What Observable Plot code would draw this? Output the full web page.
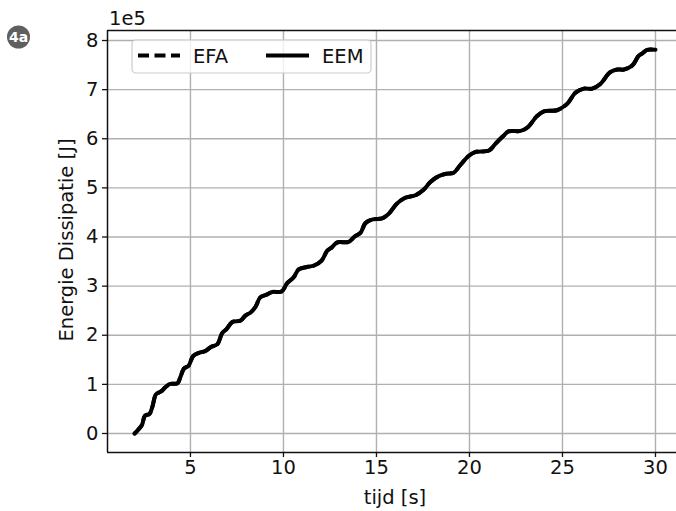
<!DOCTYPE html>
<html>
<head>
<meta charset="utf-8">
<script src="https://cdn.jsdelivr.net/npm/d3@7"></script>
<script src="https://cdn.jsdelivr.net/npm/@observablehq/plot@0.6"></script>
<style>
  html, body { margin: 0; padding: 0; background: #fff; }
  #chart { width: 676px; height: 511px; }
</style>
</head>
<body>
<div id="chart"></div>
<script>
// Energy dissipation over time (values in units of 1e5 J)
const tijd = [2.0, 2.2, 2.4, 2.55, 2.8, 2.95, 3.15, 3.4, 3.65, 3.9, 4.3, 4.45, 4.65, 4.9, 5.15, 5.45, 5.8, 6.1, 6.45, 6.7, 6.95, 7.25, 7.7, 7.95, 8.25, 8.5, 8.75, 9.05, 9.4, 9.9, 10.2, 10.55, 10.82, 11.25, 11.65, 12.05, 12.35, 12.6, 12.9, 13.5, 13.8, 14.15, 14.4, 14.8, 15.3, 15.65, 16.1, 16.55, 17.1, 17.5, 17.9, 18.35, 18.8, 19.15, 19.5, 19.95, 20.3, 21.05, 21.4, 21.8, 22.1, 22.75, 23.15, 23.6, 24.0, 24.7, 25.25, 25.7, 26.15, 26.6, 27.05, 27.55, 27.95, 28.3, 28.75, 29.1, 29.3, 29.55, 30.0];
const eem = [0.00, 0.08, 0.18, 0.36, 0.40, 0.54, 0.80, 0.85, 0.94, 1.01, 1.02, 1.14, 1.32, 1.38, 1.58, 1.64, 1.68, 1.76, 1.82, 2.04, 2.13, 2.27, 2.30, 2.40, 2.47, 2.58, 2.77, 2.82, 2.88, 2.89, 3.06, 3.18, 3.34, 3.39, 3.42, 3.52, 3.72, 3.79, 3.89, 3.90, 4.00, 4.09, 4.28, 4.36, 4.38, 4.47, 4.68, 4.80, 4.85, 4.95, 5.12, 5.24, 5.29, 5.31, 5.46, 5.65, 5.73, 5.76, 5.90, 6.05, 6.15, 6.16, 6.24, 6.45, 6.56, 6.58, 6.71, 6.94, 7.02, 7.02, 7.12, 7.35, 7.41, 7.41, 7.49, 7.69, 7.74, 7.81, 7.81];
const efa = [0.00, 0.08, 0.18, 0.36, 0.40, 0.54, 0.80, 0.85, 0.94, 1.01, 1.02, 1.14, 1.32, 1.38, 1.58, 1.64, 1.68, 1.76, 1.82, 2.04, 2.13, 2.27, 2.30, 2.40, 2.47, 2.58, 2.77, 2.82, 2.88, 2.89, 3.06, 3.18, 3.34, 3.39, 3.42, 3.52, 3.72, 3.79, 3.89, 3.90, 4.00, 4.09, 4.28, 4.36, 4.38, 4.47, 4.68, 4.80, 4.85, 4.95, 5.12, 5.24, 5.29, 5.31, 5.46, 5.65, 5.73, 5.76, 5.90, 6.05, 6.15, 6.16, 6.24, 6.45, 6.56, 6.58, 6.71, 6.94, 7.02, 7.02, 7.12, 7.35, 7.41, 7.41, 7.49, 7.69, 7.74, 7.81, 7.81];

const xTicks = [5, 10, 15, 20, 25, 30];
const yTicks = [0, 1, 2, 3, 4, 5, 6, 7, 8];
const seriesNames = ["EFA", "EEM"];

const rows = (vals, name) => tijd.map((t, i) => ({t, v: vals[i], serie: name}));
const efaRows = rows(efa, seriesNames[0]);
const eemRows = rows(eem, seriesNames[1]);

const font = "DejaVu Sans, sans-serif";
const fs = 19.5;
const ink = "#111";
const gridColor = "#b0b0b0";

const xDomain = [0.54, 31.13];
const yDomain = [-0.387, 8.204];

const chart = Plot.plot({
  width: 676,
  height: 511,
  marginLeft: 107,
  marginRight: 0,
  marginTop: 30,
  marginBottom: 59,
  style: {fontFamily: font, fontSize: fs + "px", color: ink, background: "#fff"},
  x: {domain: xDomain},
  y: {domain: yDomain},
  marks: [
    Plot.gridX(xTicks, {stroke: gridColor, strokeOpacity: 1, strokeWidth: 1.4}),
    Plot.gridY(yTicks, {stroke: gridColor, strokeOpacity: 1, strokeWidth: 1.4}),
    Plot.axisX(xTicks, {tickSize: 5, tickPadding: 3, fontSize: fs, label: null, stroke: ink, strokeWidth: 1.3}),
    Plot.axisY(yTicks, {tickSize: 5, tickPadding: 4, fontSize: fs, label: null, stroke: ink, strokeWidth: 1.3}),
    // frame: left, bottom and top spines
    Plot.ruleX([xDomain[0]], {stroke: ink, strokeWidth: 1.5}),
    Plot.ruleY([yDomain[0]], {stroke: ink, strokeWidth: 1.5}),
    Plot.ruleY([yDomain[1]], {stroke: ink, strokeWidth: 1.5}),
    Plot.line(efaRows, {x: "t", y: "v", stroke: "#000", strokeWidth: 4, strokeDasharray: "11,5.5", curve: "catmull-rom"}),
    Plot.line(eemRows, {x: "t", y: "v", stroke: "#000", strokeWidth: 4, curve: "catmull-rom"})
  ]
});

document.getElementById("chart").appendChild(chart);

const svg = d3.select(chart);

const addText = (sel, x, y, str, anchor = "start", size = fs) =>
  sel.append("text")
    .attr("x", x).attr("y", y)
    .attr("text-anchor", anchor)
    .attr("font-family", font).attr("font-size", size).attr("fill", ink)
    .text(str);

// axis labels
addText(svg, 395, 504, "tijd [s]", "middle");
svg.append("text")
  .attr("transform", "translate(73,240) rotate(-90)")
  .attr("text-anchor", "middle")
  .attr("font-family", font).attr("font-size", fs).attr("fill", ink)
  .text("Energie Dissipatie [J]");

// offset text for the y axis
addText(svg, 109, 25, "1e5");

// legend
const lg = svg.append("g");
lg.append("rect")
  .attr("x", 132).attr("y", 40).attr("width", 239).attr("height", 33).attr("rx", 4)
  .attr("fill", "#fff").attr("fill-opacity", 0.8)
  .attr("stroke", "#cccccc").attr("stroke-width", 1.2);
lg.append("line")
  .attr("x1", 138).attr("x2", 180).attr("y1", 55.5).attr("y2", 55.5)
  .attr("stroke", "#000").attr("stroke-width", 3.8).attr("stroke-dasharray", "11,5.5");
lg.append("line")
  .attr("x1", 266).attr("x2", 309).attr("y1", 55.5).attr("y2", 55.5)
  .attr("stroke", "#000").attr("stroke-width", 3.8);
addText(lg, 193, 62.5, seriesNames[0]);
addText(lg, 322, 62.5, seriesNames[1]);

// panel badge
svg.append("circle")
  .attr("cx", 18.5).attr("cy", 37).attr("r", 11.5)
  .attr("fill", "#5f5f5f");
svg.append("text")
  .attr("x", 18.5).attr("y", 42)
  .attr("text-anchor", "middle")
  .attr("font-family", font).attr("font-size", 14).attr("font-weight", "bold").attr("fill", "#fff")
  .text("4a");
</script>
</body>
</html>
